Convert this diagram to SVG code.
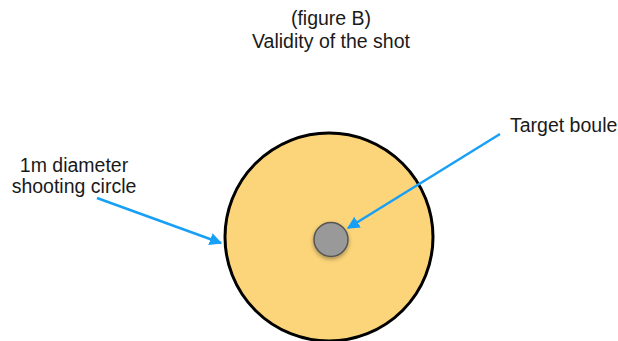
<svg xmlns="http://www.w3.org/2000/svg" width="618" height="341" viewBox="0 0 618 341">
<defs>
<style>
text{font-family:"Liberation Sans",Arial,sans-serif;font-size:19.5px;fill:#1a1a1a}
.c{stroke:#17a0f5;stroke-width:2.5;fill:none}
</style>
<marker id="ah" viewBox="0 0 10 10" refX="9" refY="5" markerWidth="5" markerHeight="5" orient="auto" markerUnits="strokeWidth">
<path d="M0,0 L10,5 L0,10 z" fill="#17a0f5"/>
</marker>
<filter id="sh" x="-50%" y="-50%" width="200%" height="200%">
<feDropShadow dx="0" dy="2" stdDeviation="2" flood-color="#000" flood-opacity="0.35"/>
</filter>
</defs>
<rect width="618" height="341" fill="#fff"/>
<g id="title">
<text x="331" y="25" text-anchor="middle">(figure B)</text>
<text x="331" y="48" text-anchor="middle">Validity of the shot</text>
</g>
<g id="shooting-circle">
<circle cx="329" cy="237" r="104" fill="#fcd57a" stroke="#000" stroke-width="3"/>
</g>
<g id="target-boule">
<circle cx="331" cy="239.5" r="17" fill="#999" stroke="#555" stroke-width="1.5" filter="url(#sh)"/>
</g>
<g id="label-circle">
<text x="74" y="172" text-anchor="middle">1m diameter</text>
<text x="74" y="193" text-anchor="middle">shooting circle</text>
</g>
<g id="label-boule">
<text x="510" y="132">Target boule</text>
</g>
<g id="connectors">
<line class="c" x1="97" y1="198" x2="221" y2="243" marker-end="url(#ah)"/>
<line class="c" x1="500" y1="134" x2="348" y2="228" marker-end="url(#ah)"/>
</g>
</svg>
